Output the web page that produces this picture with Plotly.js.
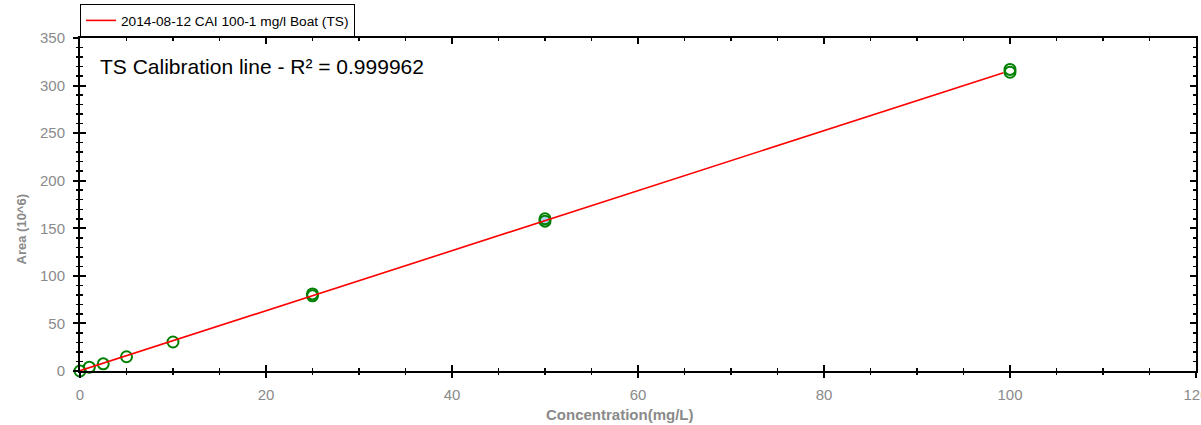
<!DOCTYPE html>
<html>
<head>
<meta charset="utf-8">
<script src="https://cdn.plot.ly/plotly-3.0.1.min.js"></script>
<style>html,body{margin:0;padding:0;background:#fff;}#chart{width:1201px;height:425px;}</style>
</head>
<body>
<div id="chart"></div>
<script>
// Calibration standards (measured points)
const concentration = [0, 1, 2.5, 5, 10, 25, 25, 50, 50, 100, 100];
const area = [0, 4, 7.5, 15, 30.5, 79, 81, 157.5, 160, 314, 317];
const pointFill = ['rgba(0,0,0,0)','rgba(0,0,0,0)','rgba(0,0,0,0)','rgba(0,0,0,0)','rgba(0,0,0,0)',
                   'rgba(0,0,0,0)','rgba(0,0,0,0)','#a8d4f2','rgba(0,0,0,0)','rgba(0,0,0,0)','rgba(0,0,0,0)'];
// Calibration line
const lineConc = [0, 99.3];
const lineArea = [0.3, 313.5];
const seriesName = '2014-08-12 CAI 100-1 mg/l Boat (TS)';
const annotationText = 'TS Calibration line - R\u00B2 = 0.999962';
const xTitle = 'Concentration(mg/L)';
const yTitle = 'Area (10^6)';

const xRange = [0, 120], yRange = [0, 350];
const FONT = 'Liberation Sans, Arial, sans-serif';
const tickFont = {family: FONT, size: 15, color: '#8a8a8a'};
const titleFont = {family: FONT, size: 15, color: '#8a8a8a', weight: 'bold'};

const traces = [
  {
    x: lineConc, y: lineArea, xaxis: 'x2', yaxis: 'y2',
    type: 'scatter', mode: 'lines', name: seriesName,
    line: {color: '#ff0000', width: 1.6}, showlegend: true
  },
  {
    x: concentration, y: area, type: 'scatter', mode: 'markers',
    marker: {symbol: 'circle', size: 11, color: pointFill, line: {color: '#008000', width: 2}},
    showlegend: false, cliponaxis: false, name: 'Standards'
  }
];

const layout = {
  width: 1201, height: 425,
  margin: {l: 80, r: 5, t: 37, b: 54},
  paper_bgcolor: '#fff', plot_bgcolor: '#fff',
  showlegend: true,
  legend: {
    x: 0, y: 1.0, xanchor: 'left', yanchor: 'bottom',
    bordercolor: '#000', borderwidth: 1, bgcolor: '#fff',
    font: {family: FONT, size: 13.7, color: '#000'},
    itemwidth: 30
  },
  xaxis: {
    range: xRange, dtick: 20, tick0: 0, showgrid: false, zeroline: false,
    showline: true, linecolor: '#000', linewidth: 2, mirror: 'ticks',
    ticks: 'inside', ticklen: 6, tickwidth: 2, tickcolor: '#000',
    minor: {dtick: 5, ticks: 'inside', ticklen: 3, tickwidth: 1.5, tickcolor: '#000', showgrid: false},
    tickfont: tickFont, ticklabelstandoff: 9, ticklabeloverflow: 'allow'
  },
  yaxis: {
    range: yRange, dtick: 50, tick0: 0, showgrid: false, zeroline: false,
    showline: true, linecolor: '#000', linewidth: 2, mirror: 'ticks',
    ticks: 'inside', ticklen: 6, tickwidth: 2, tickcolor: '#000',
    minor: {dtick: 10, ticks: 'inside', ticklen: 3, tickwidth: 1.5, tickcolor: '#000', showgrid: false},
    tickfont: tickFont, ticklabelstandoff: 10, ticklabeloverflow: 'allow'
  },
  xaxis2: {
    overlaying: 'x', anchor: 'y2', side: 'bottom', range: xRange, dtick: 20, tick0: 0,
    showgrid: false, zeroline: false, showline: false, showticklabels: false,
    ticks: 'outside', ticklen: 6, tickwidth: 2, tickcolor: '#000',
    minor: {dtick: 5, ticks: 'outside', ticklen: 3, tickwidth: 1.5, tickcolor: '#000', showgrid: false}
  },
  yaxis2: {
    overlaying: 'y', anchor: 'x2', side: 'left', range: yRange, dtick: 50, tick0: 0,
    showgrid: false, zeroline: false, showline: false, showticklabels: false,
    ticks: 'outside', ticklen: 6, tickwidth: 2, tickcolor: '#000',
    minor: {dtick: 10, ticks: 'outside', ticklen: 3, tickwidth: 1.5, tickcolor: '#000', showgrid: false}
  },
  annotations: [
    {
      xref: 'paper', yref: 'paper', x: 0.016, y: 0.913, xanchor: 'left', yanchor: 'middle',
      text: annotationText, showarrow: false,
      font: {family: FONT, size: 21, color: '#000'}
    },
    {
      xref: 'paper', yref: 'paper', x: 0.484, y: -0.132, xanchor: 'center', yanchor: 'middle',
      text: xTitle, showarrow: false, font: titleFont
    },
    {
      xref: 'paper', yref: 'paper', x: -0.052, y: 0.425, xanchor: 'center', yanchor: 'middle',
      text: yTitle, showarrow: false, textangle: -90,
      font: {family: FONT, size: 13, color: '#8a8a8a', weight: 'bold'}
    }
  ]
};

Plotly.newPlot('chart', traces, layout, {displayModeBar: false, staticPlot: true});
</script>
</body>
</html>
